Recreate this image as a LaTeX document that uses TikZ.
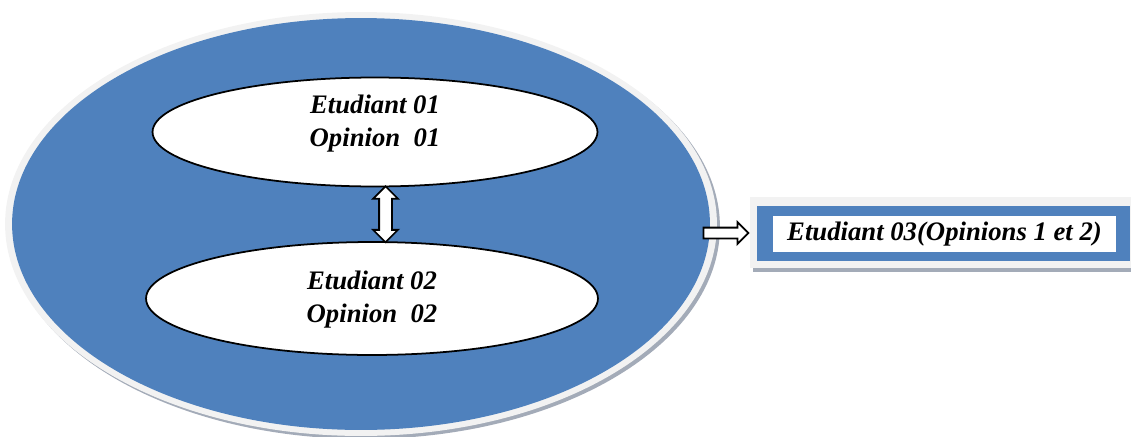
\documentclass[tikz,border=0pt]{standalone}
\usepackage{fontspec}
\setmainfont{Liberation Serif}
\usetikzlibrary{positioning,calc,shapes.geometric,shapes.arrows}
\definecolor{ofblue}{HTML}{4F81BD}
\definecolor{ofgray}{HTML}{F2F2F2}
\definecolor{shadegray}{HTML}{A3ABB8}

\begin{document}
\begin{tikzpicture}[x=0.02cm,y=-0.02cm,
	opinion/.style={ellipse,draw=black,line width=1pt,fill=white,inner sep=0pt},
	lbl/.style={font=\fontsize{15.2}{18.7}\selectfont\bfseries\itshape,align=center},
	hollow/.style={draw=black,line width=1pt,fill=white,inner xsep=0pt}]
	
	\useasboundingbox (0,0) rectangle (1131,436);
	
	\fill[shadegray]
	(364,227) ellipse [x radius=7.12cm, y radius=4.24cm];
	
	\fill[ofgray]
	(361,224) ellipse [x radius=7.12cm, y radius=4.24cm];
	
	\node[ellipse,fill=ofblue,inner sep=0pt,
		minimum width=13.96cm,minimum height=8.24cm]
	(group) at (361,224) {};
	
	\node[opinion,minimum width=8.9cm,minimum height=2.18cm]
	(op1) at (375,132) {};
	
	\node[opinion,minimum width=9.04cm,minimum height=2.26cm]
	(op2) at (372,298.5) {};
	
	\node[lbl]
	(txt1) at ([yshift=0.17cm]op1.center)
	{Etudiant 01\\Opinion\ \ 01};
	
	\node[lbl]
	(txt2) at ([yshift=-0.03cm]op2.center)
	{Etudiant 02\\Opinion\ \ 02};
	
	\node[hollow,double arrow,rotate=90,
		minimum height=1.12cm,inner ysep=0.11cm,
		double arrow head extend=0.12cm]
	(link) at ([xshift=0.24cm]$(op1.south)!0.5!(op2.north)$) {};
	
	\fill[ofgray]
	(750,197) rectangle (1131,268);
	
	\fill[shadegray]
	(753,268) rectangle (1131,272);
	
	\fill[ofblue]
	(757,206) rectangle (1130,261);
	
	\node[lbl,fill=white,inner sep=0pt,
		minimum width=6.86cm,minimum height=0.72cm]
	(res) at (944.5,234)
	{Etudiant 03(Opinions 1 et 2)};
	
	\node[hollow,single arrow,anchor=tip,
		minimum height=0.9cm,inner ysep=0.09cm,
		single arrow head extend=0.11cm]
	(out) at ([xshift=-0.46cm,yshift=0.02cm]res.west) {};
	
\end{tikzpicture}
\end{document}
